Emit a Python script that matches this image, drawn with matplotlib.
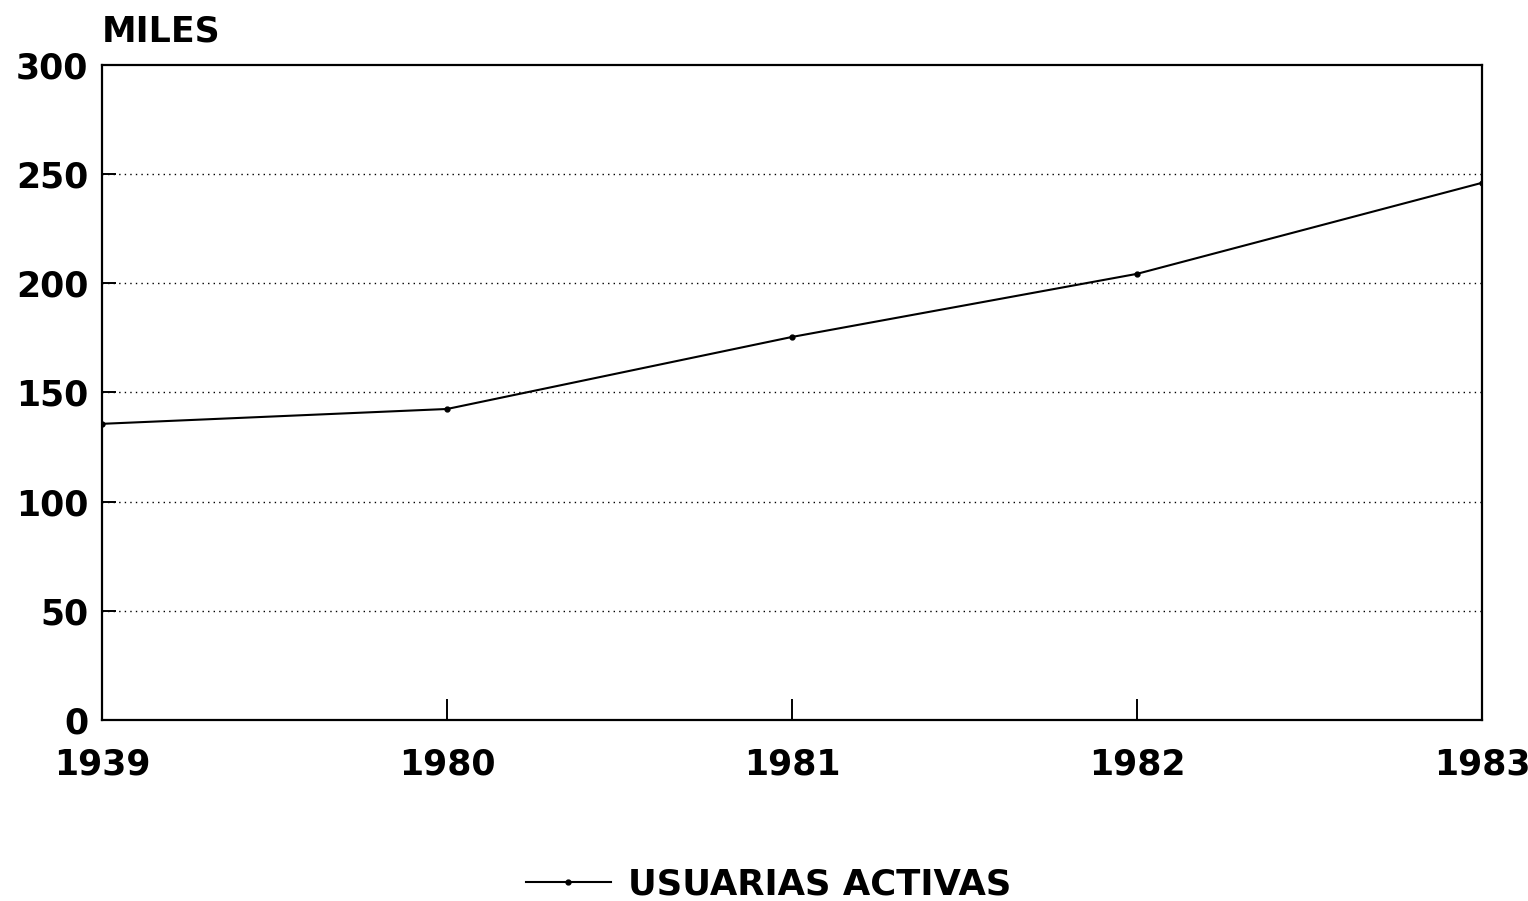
import matplotlib.pyplot as plt

# Usuarias activas (miles)
years = ['1939', '1980', '1981', '1982', '1983']
usuarias = [135.6, 142.4, 175.4, 204.3, 246.0]
y_ticks = [0, 50, 100, 150, 200, 250, 300]

plt.rcParams['font.family'] = ['DejaVu Sans']

fig = plt.figure(figsize=(15.28, 9.01), dpi=100)
ax = fig.add_axes([0.0668, 0.201, 0.9032, 0.727])

x = list(range(len(years)))
line, = ax.plot(x, usuarias, color='black', linewidth=1.5, marker='o',
                markersize=3.5, label='USUARIAS ACTIVAS')

ax.set_xlim(0, len(years) - 1)
ax.set_ylim(0, 300)
ax.set_xticks(x)
ax.set_xticklabels(years)
ax.set_yticks(y_ticks)

# dotted horizontal grid
for v in y_ticks[1:-1]:
    ax.axhline(v, color='black', linestyle=(0, (1, 3)), linewidth=1.0, zorder=0)

for s in ax.spines.values():
    s.set_linewidth(1.6)

ax.tick_params(axis='y', direction='in', length=10, width=1.4,
               labelsize=25, pad=10)
ax.tick_params(axis='x', direction='in', length=15, width=1.4,
               labelsize=25, pad=20)
for lbl in ax.get_xticklabels() + ax.get_yticklabels():
    lbl.set_fontweight('bold')

ax.text(0, 1.025, 'MILES', transform=ax.transAxes, fontsize=25,
        fontweight='bold', ha='left', va='bottom')

fig.legend(handles=[line], loc='center', bbox_to_anchor=(0.503, 0.018),
           frameon=False, prop={'size': 25.5, 'weight': 'bold'},
           handlelength=2.4, handletextpad=0.5)

fig.savefig('out.png', dpi=100)
